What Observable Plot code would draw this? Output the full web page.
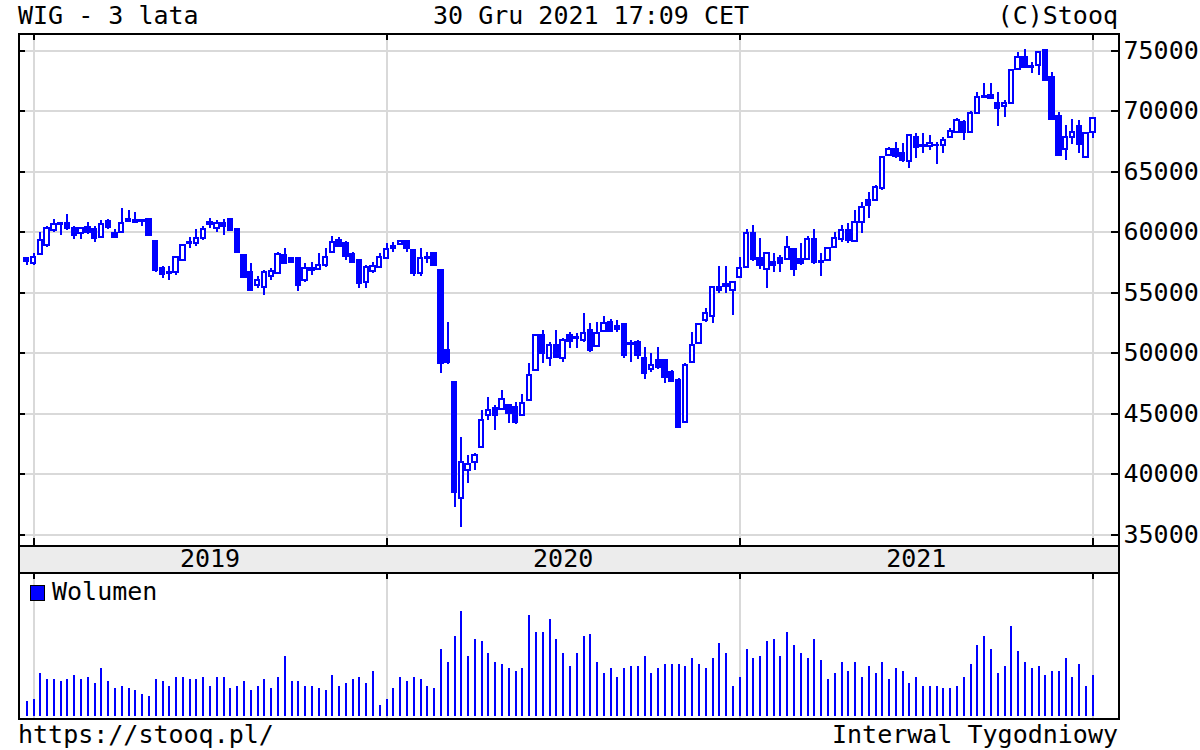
<!DOCTYPE html>
<html>
<head>
<meta charset="utf-8">
<script src="https://cdn.jsdelivr.net/npm/d3@7"></script>
<script src="https://cdn.jsdelivr.net/npm/@observablehq/plot@0.6"></script>
<style>
  body { margin: 0; background: #fff; }
  #page { position: relative; width: 1200px; height: 750px; font-family: "DejaVu Sans Mono", monospace; font-size: 25px; color: #000; overflow: hidden; }
  .txt { position: absolute; line-height: 29px; white-space: pre; }
  #page svg { position: absolute; left: 0; }
</style>
</head>
<body>
<div id="page"></div>
<script>
// Weekly WIG candles (week index 0 = last week of 2018 ... 157 = last week of 2021)
const open = [
57810,57400,58140,58885,60125,60700,60700,60290,59875,60370,
60210,59545,60870,59875,59960,61030,60950,60950,61030,59215,
56985,56650,56650,57650,59050,59050,59460,60790,60290,60700,
61030,60210,58060,56650,55580,55415,56320,56570,58060,57810,
57810,55990,56820,56900,57230,58310,59300,59050,58140,57650,
55830,56735,57070,57810,58640,58970,59215,58470,56570,57810,
58220,56820,50210,47560,37980,40290,40950,42190,44840,45420,
45330,45670,45500,44840,46080,48560,51450,49550,50620,49550,
51450,51280,51040,51860,50540,51780,52520,52190,52360,50710,
50870,49550,48640,49380,49380,48390,47730,44260,49210,50790,
52690,53020,55415,55500,55166,56240,57070,59880,57810,56900,
57480,57810,57730,58550,57730,57730,59380,57560,57650,58720,
59380,60125,59215,60790,62600,62600,63600,66320,66820,66490,
65850,67810,67150,67070,67150,67150,67810,68220,69050,68220,
69800,71120,71280,70620,70370,70620,73430,74420,73680,73760,
75000,72770,69550,66820,67810,68720,66160,68220];
const high = [
57890,58220,59960,60460,61030,60790,61450,60460,60370,60790,
60460,60950,61030,60210,61940,61780,61610,61030,61030,59300,
57150,57150,57890,58970,59545,60210,60460,61110,60950,61030,
61110,60290,58140,57400,56320,56820,56990,58310,58640,57890,
57890,57400,57480,58220,58640,59630,59545,59215,58310,57730,
57230,57480,58220,59050,59130,59300,59300,58550,58640,58310,
58310,56900,52520,47640,43020,41530,41690,45250,46320,45670,
46900,45750,45910,46570,49130,51530,51860,50870,51860,51200,
51700,51610,53270,52440,52520,53020,52770,52690,52440,51040,
51040,50460,49960,50460,49460,48560,47890,49130,51700,52440,
53680,55500,57150,57150,55910,57890,60210,60540,59460,58310,
58220,58060,59630,58640,59050,59630,60210,58220,58720,59960,
60540,60700,61780,62440,63270,63850,66240,66980,67400,67310,
68060,68140,68140,67970,67400,67810,68550,69380,69215,69960,
71530,72270,72270,71530,70870,73430,74830,75080,74010,74910,
75080,73180,69880,68800,69300,69220,68220,69460];
const low = [
57230,57230,58060,58720,59960,59710,60125,59380,59380,59795,
59130,59460,60210,59545,59875,60790,60700,60460,59630,56650,
56160,55990,56400,57560,58640,58800,59300,60290,59960,59710,
60040,58310,56160,55080,55330,54750,55990,56490,57310,57400,
55080,55830,56400,56820,57070,58220,58720,57650,57400,55330,
55330,56570,56990,57730,58310,58885,58310,56320,56320,57400,
57150,48310,49050,37230,35580,39220,40290,42110,44420,43600,
45250,44180,44100,44760,46000,48480,49130,48890,49550,49210,
50370,50370,50870,50040,50460,51700,51700,51700,49550,49210,
49460,47810,48390,48640,47480,47560,43760,44180,49130,50710,
52520,52440,54920,54920,53100,56160,56990,57560,56900,55330,
56650,56650,57650,56320,57230,57650,57310,56320,57560,58640,
59130,59050,59130,59880,61120,62520,63430,66240,66070,65750,
65220,66070,66490,66740,65580,66490,67730,68140,67560,68140,
69720,71030,70950,68720,69460,70540,73350,73510,73100,72930,
72440,69220,66240,65910,67230,66490,66070,67730];
const close = [
57560,57890,59300,60290,60620,60620,60290,59710,60290,59960,
59460,60620,60370,59545,60700,60870,60790,60870,59710,56820,
56490,56570,57890,58885,59130,59460,60210,60620,60700,60460,
60125,58310,56240,55166,55990,56650,56730,58140,57400,57480,
55580,56990,56985,57230,57890,59130,58800,57980,57480,55740,
57070,57150,57890,58550,58800,59215,58640,56570,57810,57890,
57230,49130,49220,38470,40950,40790,41530,44420,45250,44840,
46160,45000,44260,45830,48140,51450,49960,50620,49630,51040,
50950,51200,51620,50210,51620,52440,51780,51940,49800,50790,
49790,48310,48970,48800,47980,47650,43840,48970,50620,52360,
53270,55415,55166,55660,55830,56990,59880,57730,57230,58220,
57230,57400,58720,56900,57400,59380,57480,57480,58640,59460,
60125,59300,60790,62020,62190,63680,66160,66820,66240,65910,
67975,66980,67070,67310,67110,67560,68310,69215,68220,69800,
71120,71200,71030,70210,70620,73350,74420,73590,73590,74830,
72520,69300,66320,67810,68220,67230,68140,69380];
// Weekly volume (relative units)
const volume = [
15,17,43,37,37,35,37,41,37,39,
33,48,35,28,30,28,26,22,20,37,
35,30,39,39,37,37,39,30,39,39,
28,30,35,26,30,37,28,39,60,35,
35,30,30,28,26,41,30,33,37,39,
33,45,11,17,28,39,35,39,37,30,
28,67,54,80,105,60,77,75,63,54,
52,48,45,48,101,84,84,97,77,63,
50,63,80,82,54,43,48,39,48,50,
50,60,43,48,52,52,52,50,58,52,
48,58,73,63,30,39,67,58,60,75,
77,60,84,71,63,58,77,56,37,43,
54,45,54,39,50,43,54,37,48,45,
33,39,30,30,30,28,28,30,39,52,
71,80,67,43,50,90,65,54,48,50,
41,45,45,58,39,52,30,41];
const yearLabels = ["2019", "2020", "2021"];
const yearStartWeek = [1, 53, 105, 157];
const priceTicks = [35000, 40000, 45000, 50000, 55000, 60000, 65000, 70000, 75000];

const BLUE = "#0000ff";
const GRID = "#d9d9d9";
const FONT = "DejaVu Sans Mono";
const xDomain = [-1.21, 160.78];

const bars = open.map((o, i) => ({i, o, h: high[i], l: low[i], c: close[i], v: volume[i]}));
const up = bars.filter(d => d.c >= d.o);
const down = bars.filter(d => d.c < d.o);
const half = 0.32;

const page = document.getElementById("page");
function put(el, top) { el.style.top = top + "px"; page.appendChild(el); }
function txt(s, left, top, right) {
  const d = document.createElement("div");
  d.className = "txt"; d.textContent = s; d.style.top = top + "px";
  if (right != null) d.style.right = right + "px"; else d.style.left = left + "px";
  page.appendChild(d);
}
const baseStyle = {background: "transparent", overflow: "visible", fontFamily: FONT};
const crisp = {shapeRendering: "crispEdges"};

// Price panel: plot area y 33..545
const price = Plot.plot({
  width: 1200, height: 532,
  marginLeft: 18, marginRight: 82, marginTop: 10, marginBottom: 10,
  style: baseStyle,
  x: {domain: xDomain, axis: null, label: null},
  y: {domain: [34091, 76405], axis: null, label: null},
  marks: [
    Plot.ruleY(priceTicks, {stroke: GRID, strokeWidth: 2, ...crisp}),
    Plot.ruleX(yearStartWeek, {stroke: GRID, strokeWidth: 2, ...crisp}),
    Plot.ruleX(bars, {x: "i", y1: "l", y2: "h", stroke: BLUE, strokeWidth: 2, ...crisp}),
    Plot.rect(up, {x1: d => d.i - half, x2: d => d.i + half, y1: "o", y2: "c", fill: "white", stroke: BLUE, strokeWidth: 2, ...crisp}),
    Plot.rect(down, {x1: d => d.i - half, x2: d => d.i + half, y1: "o", y2: "c", fill: BLUE, stroke: BLUE, strokeWidth: 2, ...crisp}),
    Plot.tickY(priceTicks, {y: d => d, insetRight: 1093, stroke: "black", strokeWidth: 2, ...crisp}),
    Plot.tickY(priceTicks, {y: d => d, insetLeft: 1093, stroke: "black", strokeWidth: 2, ...crisp}),
    Plot.tickX(yearStartWeek, {x: d => d, insetBottom: 505, stroke: "black", strokeWidth: 2, ...crisp}),
    Plot.tickX(yearStartWeek, {x: d => d, insetTop: 505, stroke: "black", strokeWidth: 2, ...crisp}),
    Plot.axisY(priceTicks, {anchor: "right", tickSize: 0, tickPadding: 5, fontSize: 25, tickFormat: d => String(d), label: null}),
    Plot.frame({stroke: "black", strokeWidth: 2, ...crisp})
  ]
});
put(price, 23);

// Year band: y 545..572
const band = Plot.plot({
  width: 1200, height: 27,
  marginLeft: 18, marginRight: 82, marginTop: 0, marginBottom: 0,
  style: baseStyle,
  x: {domain: xDomain, axis: null, label: null},
  y: {axis: null},
  marks: [
    Plot.frame({fill: "#ececec", stroke: "black", strokeWidth: 2, ...crisp}),
    Plot.text(yearLabels, {x: (d, i) => (yearStartWeek[i] + yearStartWeek[i + 1]) / 2, text: d => d, frameAnchor: "middle", fontSize: 25, fill: "black"})
  ]
});
put(band, 545);

// Volume panel: y 572..718
const vol = Plot.plot({
  width: 1200, height: 146,
  marginLeft: 18, marginRight: 82, marginTop: 0, marginBottom: 0,
  style: baseStyle,
  x: {domain: xDomain, axis: null, label: null},
  y: {domain: [-2, 144], axis: null, label: null},
  marks: [
    Plot.ruleX(yearStartWeek, {stroke: GRID, strokeWidth: 2, ...crisp}),
    Plot.ruleX(bars, {x: "i", y1: 0, y2: "v", stroke: BLUE, strokeWidth: 2, ...crisp}),
    Plot.tickX(yearStartWeek, {x: d => d, insetBottom: 139, stroke: "black", strokeWidth: 2, ...crisp}),
    Plot.frame({stroke: "black", strokeWidth: 2, ...crisp})
  ]
});
put(vol, 572);

// Legend
const sq = document.createElement("div");
Object.assign(sq.style, {position: "absolute", left: "30px", top: "585px", width: "13px", height: "14px", background: BLUE, border: "1px solid #000"});
page.appendChild(sq);
txt("Wolumen", 52, 577);

// Titles and footer
txt("WIG - 3 lata", 18, 1);
txt("30 Gru 2021 17:09 CET", 433, 1);
txt("(C)Stooq", null, 1, 82);
txt("https://stooq.pl/", 18, 720);
txt("Interwal Tygodniowy", null, 720, 82);
</script>
</body>
</html>
